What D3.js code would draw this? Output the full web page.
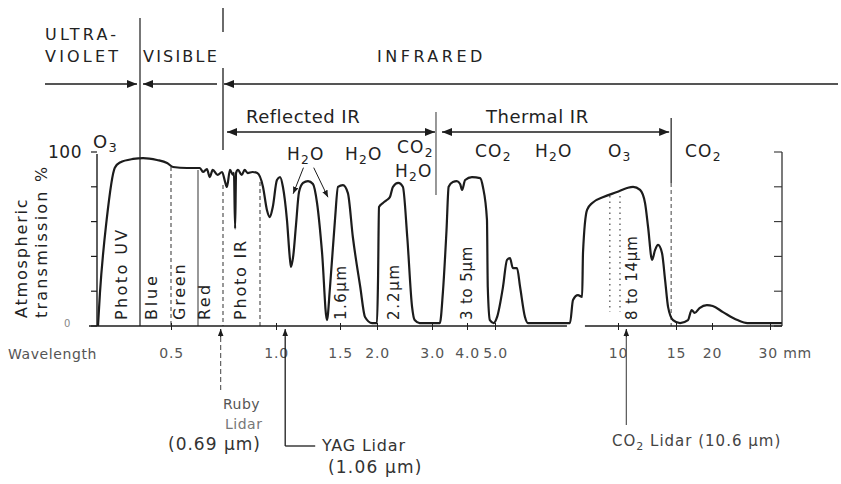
<!DOCTYPE html>
<html><head><meta charset="utf-8">
<script src="https://cdn.jsdelivr.net/npm/d3@7"></script>
<style>
body{margin:0;background:#fff}
svg{display:block}
text{font-family:"DejaVu Sans",sans-serif;fill:#222}
</style>
</head><body>
<svg id="c" width="841" height="484"></svg>
<script>
// ---- data (wavelength in µm, transmission in %) ----
const wavelength = [0.302,0.306,0.320,0.338,0.350,0.382,0.409,0.452,0.486,0.507,0.557,0.607,0.619,0.634,0.645,0.657,0.677,0.696,0.710,0.719,0.734,0.749,0.754,0.760,0.765,0.775,0.795,0.811,0.828,0.855,0.884,0.918,0.942,0.960,0.979,1.006,1.026,1.045,1.072,1.093,1.100,1.115,1.135,1.157,1.187,1.225,1.264,1.297,1.339,1.381,1.408,1.453,1.481,1.535,1.595,1.658,1.756,1.822,1.925,2.00,2.015,2.03,2.09,2.15,2.20,2.25,2.34,2.42,2.50,2.59,2.64,2.74,3.20,3.28,3.38,3.44,3.56,3.68,3.78,3.84,3.94,4.16,4.44,4.54,4.69,4.72,4.80,4.95,5.06,5.23,5.35,5.44,5.53,5.66,5.76,5.92,6.02,7.63,7.76,7.98,8.17,8.21,8.40,8.65,9.21,9.94,10.65,11.11,11.67,12.08,12.34,12.69,12.96,13.23,13.60,13.90,14.19,14.69,15.49,16.51,17.0,17.4,18.1,19.2,20.1,21.6,23.9,25.6,32.6];
const transmission = [0,19,61,91,94,96,96.5,95.4,93.7,91.4,90.8,90.8,88.5,90.2,85.6,89.7,86.8,88.5,82.8,79.9,89.7,86.8,88,56,88,89.7,86.8,89.7,87.9,88.5,87.9,79.9,66.7,62.6,68.4,83.9,85.6,79.9,60.9,38,34,40,58,77,82.2,83.3,81.6,70.7,42,3.4,22.4,61,80,81,76.4,51,22.4,5.2,1.7,1.7,26,68.4,70.7,72.4,74.1,80,82.2,80,51,11,3.4,1.7,1.7,19,55,80,82.8,83.3,81.6,78.2,83.9,85.6,85,80,61,22.4,3.4,1.7,5.2,22.4,38,39,33.3,33.3,22.4,5.2,1.7,1.7,15,17.8,16.7,42,66.7,70.7,74.1,77,79.3,80,78.2,70.7,56.9,38,43.7,46.6,42,26.4,11,3.4,1.7,3.4,9.2,7.5,10.3,12,11.5,8,3.4,1.7,1.7];

const tickValues = [0.5,1,1.5,2,3,4,5,10,15,20,30];
const tickLabels = ["0.5","1.0","1.5","2.0","3.0","4.0","5.0","10","15","20","30 mm"];
const yTicks = [0,20,40,60,80,100];
const bandLines = [0.5,0.6,0.9];          // dashed band boundaries
const lidarRuby = 0.69, lidarYAG = 1.06, lidarCO2 = 10.6;
const uvVis = 0.4, visIr = 0.7, reflTherm = 3.1, thermEnd = 14.5;
const windowMarks = [9.55, 10.14];       // dotted lines in 8-14 µm window

// ---- scales ----
const svg = d3.select("#c");
const x = d3.scaleLog()
  .domain([0.3,0.4,0.5,0.6,0.7,0.9,1,1.5,2,3,4,5,10,15,20,30])
  .range([97,140,171,198,223,260,276,340,377,432,467,495,618,676,712,770]);
const y = d3.scaleLinear().domain([0,100]).range([326,152]);
const ink = "#1c1c1c";

const defs = svg.append("defs");
defs.append("marker").attr("id","ah").attr("viewBox","0 0 10 8")
  .attr("markerWidth",10).attr("markerHeight",8).attr("refX",10).attr("refY",4)
  .attr("markerUnits","userSpaceOnUse").attr("orient","auto-start-reverse")
  .append("path").attr("d","M0,0 L10,4 L0,8 Z").attr("fill",ink);
defs.append("marker").attr("id","ahs").attr("viewBox","0 0 10 8")
  .attr("markerWidth",7).attr("markerHeight",6).attr("refX",10).attr("refY",4)
  .attr("markerUnits","userSpaceOnUse").attr("orient","auto-start-reverse")
  .append("path").attr("d","M0,0 L10,4 L0,8 Z").attr("fill",ink);

function line(x1,y1,x2,y2,opt={}){
  const l = svg.append("line").attr("x1",x1).attr("y1",y1).attr("x2",x2).attr("y2",y2)
    .attr("stroke",opt.color||ink).attr("stroke-width",opt.w||1.3);
  if(opt.dash) l.attr("stroke-dasharray",opt.dash);
  if(opt.ms) l.attr("marker-start",opt.ms);
  if(opt.me) l.attr("marker-end",opt.me);
  return l;
}
function txt(s,xx,yy,size,opt={}){
  const t = svg.append("text").attr("x",xx).attr("y",yy).attr("font-size",size)
    .text(s);
  if(opt.ls) t.attr("letter-spacing",opt.ls);
  if(opt.fill) t.style("fill",opt.fill);
  if(opt.anchor) t.attr("text-anchor",opt.anchor);
  return t;
}
function chem(main,sub,rest,xx,yy,size){
  const t = svg.append("text").attr("x",xx).attr("y",yy).attr("font-size",size).attr("letter-spacing",1.2);
  t.append("tspan").text(main);
  t.append("tspan").attr("dy",4).attr("font-size",size*0.72).text(sub);
  if(rest) t.append("tspan").attr("dy",-4).text(rest);
}
function vtxt(s,xx,yy,size,ls){
  svg.append("text").attr("transform",`translate(${xx},${yy}) rotate(-90)`)
    .attr("font-size",size).attr("letter-spacing",ls||0).text(s);
}

// ---- top region labels and arrows ----
txt("ULTRA-",45,40,16,{ls:3.2});
txt("VIOLET",45,62,16,{ls:3.2});
txt("VISIBLE",143,62,16,{ls:2.2});
txt("INFRARED",377,62,16,{ls:3.5});
line(45,84,x(uvVis)-3,84,{me:"url(#ah)"});
line(x(uvVis)+3,84,x(visIr)-6,84,{ms:"url(#ah)"});
line(x(visIr)+1,84,838,84,{ms:"url(#ah)"});

txt("Reflected IR",246,123,18,{ls:0.5});
txt("Thermal IR",486,123,18,{ls:0.5});
line(x(visIr)+4,132,x(reflTherm)-1,132,{ms:"url(#ah)",me:"url(#ah)"});
line(x(reflTherm)+6,132,x(thermEnd)-2,132,{ms:"url(#ah)",me:"url(#ah)"});

// dividers
line(x(uvVis),18,x(uvVis),326,{w:1.2});
line(x(visIr),8,x(visIr),32,{w:1.3});
line(x(visIr),68,x(visIr),150,{w:1.3});
line(x(visIr),185,x(visIr),326,{w:1.1,dash:"4,3",color:"#444"});
line(x(reflTherm),112,x(reflTherm),195,{w:1.1,color:"#444"});
line(x(thermEnd),118,x(thermEnd),183,{w:1.2});
line(x(thermEnd),183,x(thermEnd),326,{w:1.1,dash:"4,3",color:"#555"});

// band lines in visible
const bandTop = {0.5:167,0.6:170,0.9:182};
bandLines.forEach(b=>line(x(b),bandTop[b],x(b),326,{w:1.1,dash:b===0.6?null:"4,3",color:"#444"}));
windowMarks.forEach(b=>line(x(b),196,x(b),312,{w:1.3,dash:"1.5,4",color:"#555"}));

// gas labels
chem("O","3","",93,148,18);
chem("H","2","O",287,160,17);
chem("H","2","O",345,160,17);
chem("CO","2","",397,153,17);
chem("H","2","O",395,177,17);
chem("CO","2","",475,157,17);
chem("H","2","O",535,157,17);
chem("O","3","",608,157,17);
chem("CO","2","",685,157,17);
// H2O pointer arrows
line(x(1.19),y(91),x(1.115),y(76),{w:1,me:"url(#ahs)"});
line(x(1.27),y(91),x(1.39),y(74),{w:1,me:"url(#ahs)"});

// ---- axes ----
// left axis
line(x(0.3),y(100)+2,x(0.3),y(0),{w:1.4});
yTicks.forEach(v=>line(x(0.3)-6,y(v),x(0.3),y(v),{w:1.2}));
txt("100",48,158,17,{ls:0.5});
txt("0",64,327,10,{fill:"#888"});
// right axis
line(782,y(100),782,y(0),{w:1.3,color:"#333"});
yTicks.forEach(v=>line(774,y(v),782,y(v),{w:1.1,color:"#333"}));

// bottom axis (with a break)
line(x(0.3)-8,y(0),x(7.5),y(0),{w:1.6});
line(x(8.3),y(0),782,y(0),{w:1.6});
const ax = svg.append("g").attr("transform",`translate(0,${y(0)})`)
  .call(d3.axisBottom(x).tickValues(tickValues).tickFormat((d,i)=>tickLabels[i])
    .tickSizeInner(4).tickSizeOuter(0).tickPadding(18));
ax.select(".domain").remove();
ax.selectAll(".tick line").attr("y1",-3).attr("stroke",ink);
ax.selectAll(".tick text").attr("font-size",14).attr("font-family","DejaVu Sans")
  .attr("letter-spacing",0.8).style("fill","#555");
ax.selectAll(".tick text").filter((d,i)=>i===tickLabels.length-1)
  .attr("text-anchor","start").attr("dx",-12);
txt("Wavelength",8,359,14,{fill:"#555",ls:0.6});

// y label
vtxt("Atmospheric",27,318,16,1.8);
vtxt("transmission %",47,318,16,2.2);

// ---- curve ----
const pts = wavelength.map((w,i)=>[w,transmission[i]]);
svg.append("path").datum(pts)
  .attr("fill","none").attr("stroke",ink).attr("stroke-width",2.2)
  .attr("stroke-linejoin","round")
  .attr("d",d3.line().x(d=>x(d[0])).y(d=>y(d[1])).curve(d3.curveMonotoneX));

// ---- band labels (vertical) ----
vtxt("Photo UV",127,320,16,2.4);
vtxt("Blue",157,320,16,2.8);
vtxt("Green",185,320,16,1.8);
vtxt("Red",210,320,16,2.4);
vtxt("Photo IR",246,320,16,1.8);
vtxt("1.6\u00b5m",346,320,15,1.5);
vtxt("2.2\u00b5m",399,320,15,1.8);
vtxt("3 to 5\u00b5m",472,320,15,0.8);
vtxt("8 to 14\u00b5m",637,320,15,0.8);

// ---- lidar annotations ----
const gray = "#555";
line(x(lidarRuby),337,x(lidarRuby),329,{w:1.2,me:"url(#ahs)"});
line(x(lidarRuby),337,x(lidarRuby),393,{w:1.1,dash:"5,3",color:gray});
txt("Ruby",223,409,14,{fill:gray,ls:0.5});
txt("Lidar",225,429,14,{fill:"#777",ls:0.5});
txt("(0.69 \u00b5m)",168,450,17,{fill:"#333",ls:1});

line(x(lidarYAG),337,x(lidarYAG),446,{w:1.3,me:null});
line(x(lidarYAG),337,x(lidarYAG),329,{w:1.2,me:"url(#ahs)"});
line(x(lidarYAG),446,x(lidarYAG)+30,446,{w:1.3});
txt("YAG Lidar",322,451,16,{fill:"#333",ls:0.8});
txt("(1.06 \u00b5m)",328,473,17,{fill:"#333",ls:1.2});

line(x(lidarCO2),337,x(lidarCO2),329,{w:1.2,me:"url(#ahs)"});
line(x(lidarCO2),337,x(lidarCO2),425,{w:1.2,color:gray});
const co = svg.append("text").attr("x",612).attr("y",446).attr("font-size",15)
  .attr("letter-spacing",1).style("fill","#444");
co.append("tspan").text("CO");
co.append("tspan").attr("dy",4).attr("font-size",11).text("2");
co.append("tspan").attr("dy",-4).text(" Lidar (10.6 \u00b5m)");
</script>
</body></html>
